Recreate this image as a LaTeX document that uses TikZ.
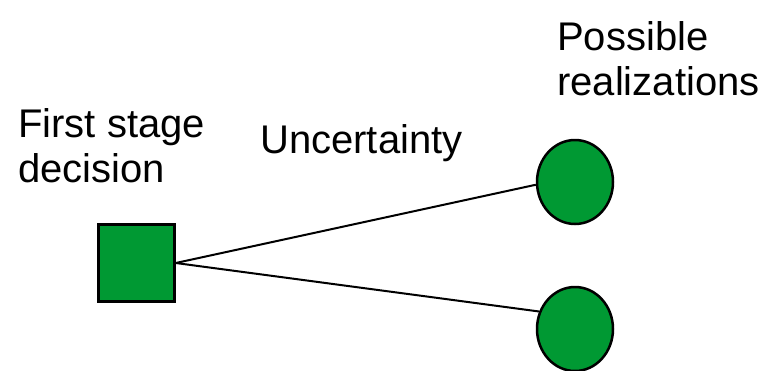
\documentclass[tikz,border=0pt]{standalone}
\usepackage{fontspec}
\setmainfont{Liberation Sans}
\usetikzlibrary{shapes.geometric}
\definecolor{nodegreen}{HTML}{009933}
\tikzset{
  decisionbox/.style={draw=black, line width=2.5pt, fill=nodegreen, minimum width=76pt, minimum height=77pt, inner sep=0pt},
  chancenode/.style={ellipse, draw=black, line width=2.5pt, fill=nodegreen, minimum width=76pt, minimum height=84pt, inner sep=0pt},
  branch/.style={draw=black, line width=2pt},
  caption/.style={anchor=base west, inner sep=0pt, font=\fontsize{40pt}{45pt}\selectfont, align=left}
}
\begin{document}
\begin{tikzpicture}[x=1pt, y=-1pt]
  \useasboundingbox (0,0) rectangle (773,370);
  \begin{scope}
    \clip (0,0) rectangle (773,370);
    \node[decisionbox] (dec) at (136.5,263) {};
    \node[chancenode] (top) at (575,182) {};
    \node[chancenode] (bot) at (575,329) {};
    \draw[branch] (dec.east) -- (top.184);
    \draw[branch] (dec.east) -- (bot.154);
  \end{scope}
  % base anchor of a two-line caption sits on its last line
  \node[caption] (lbldec) at (18,182) {First stage\\decision};
  \node[caption] (lblunc) at (260,153) {Uncertainty};
  \node[caption] (lblreal) at (557,95) {Possible\\realizations};
\end{tikzpicture}
\end{document}
